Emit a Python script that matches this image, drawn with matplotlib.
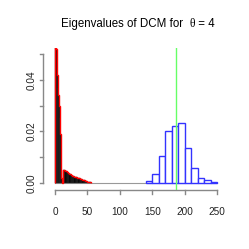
import matplotlib
matplotlib.use("Agg")
import matplotlib.pyplot as plt
import numpy as np

plt.rcParams['font.family'] = ['Liberation Sans', 'DejaVu Sans']

# Black histogram (small eigenvalues), bin edges and densities
black_edges = [0, 1, 2, 3, 4, 5, 6, 7, 8, 9, 10, 11, 12, 14, 16, 18, 20, 22, 24,
               26, 28, 30, 32, 34, 36, 38, 40, 42, 44, 46, 48, 50, 52, 54, 56]
black_dens = [0.090, 0.070, 0.052, 0.042, 0.037, 0.034, 0.030, 0.025, 0.019,
              0.009, 0.002, 0.0, 0.0051, 0.0048, 0.0044, 0.0040, 0.0037, 0.0034,
              0.0031, 0.0028, 0.0026, 0.0024, 0.0021, 0.0019, 0.0017, 0.0015,
              0.0013, 0.0011, 0.0009, 0.0007, 0.0005, 0.0004, 0.0002, 0.0001]

# Blue histogram (largest eigenvalue)
blue_edges = [140, 150, 160, 170, 180, 190, 200, 210, 220, 230, 240, 250]
blue_dens = [0.0005, 0.0032, 0.0105, 0.0201, 0.0219, 0.0234, 0.0134, 0.0057,
             0.0018, 0.0009, 0.0003]

theta_line = 187
x_ticks = [0, 50, 100, 150, 200, 250]
y_ticks = [0.00, 0.01, 0.02, 0.03, 0.04, 0.05]
y_labels = ["0.00", "", "0.02", "", "0.04", ""]

fig = plt.figure(figsize=(2.49, 2.49), dpi=100)
ax = fig.add_axes([43.3/249, 1-190/249, (230-43.3)/249, (190-48)/249])
ax.set_xlim(-18, 269.6)
ax.set_ylim(-0.00284, 0.0524)

# baseline
ax.plot([0, 250], [0, 0], color='#999999', lw=0.8, zorder=1)

# black histogram
be = np.array(black_edges)
ax.bar(be[:-1], black_dens, width=np.diff(be), align='edge', color='black',
       edgecolor='#333333', lw=0.3, zorder=2)
ax.stairs(black_dens, be, color='red', lw=1.0, zorder=3)

# blue histogram
bl = np.array(blue_edges)
ax.bar(bl[:-1], blue_dens, width=np.diff(bl), align='edge', color='white',
       edgecolor='#3333ff', lw=1.0, zorder=4)

ax.axvline(theta_line, color='#66ff66', lw=1.0, zorder=5)

for s in ax.spines.values():
    s.set_visible(False)
ax.set_xticks([]); ax.set_yticks([])

# R-style axes
axcol = '#888888'
trans_x = ax.get_xaxis_transform()
ax.plot([0, 250], [0, 0], transform=trans_x, color=axcol, lw=1, clip_on=False)
for t in x_ticks:
    ax.plot([t, t], [0, -4/142], transform=trans_x, color=axcol, lw=1, clip_on=False)
    ax.text(t, -22/142, str(t), transform=trans_x, ha='center', va='center',
            fontsize=7.2, color='#222222')
trans_y = ax.get_yaxis_transform()
ax.plot([0, 0], [0, 0.05], transform=trans_y, color=axcol, lw=1, clip_on=False)
for t, lab in zip(y_ticks, y_labels):
    ax.plot([0, -3/186.7], [t, t], transform=trans_y, color=axcol, lw=1, clip_on=False)
    if lab:
        ax.text(-11.5/186.7, t, lab, transform=trans_y, ha='center', va='center',
                rotation=90, fontsize=7.2, color='#222222')

# Title with serif theta (R plotmath style)
fig.canvas.draw()
r = fig.canvas.get_renderer()
parts = [("Eigenvalues of DCM for  ", 'Liberation Sans'),
         ("θ", 'Liberation Serif'),
         (" = 4", 'Liberation Sans')]
fs = 8.3
texts = []
widths = []
for s, fam in parts:
    t = fig.text(0, 1-24/249, s, fontsize=fs, family=fam, ha='left', va='center')
    texts.append(t)
    widths.append(t.get_window_extent(r).width)
total = sum(widths)
x0 = 138 - total/2
for t, w in zip(texts, widths):
    t.set_x(x0/249)
    x0 += w

fig.savefig("out.png", dpi=100)
